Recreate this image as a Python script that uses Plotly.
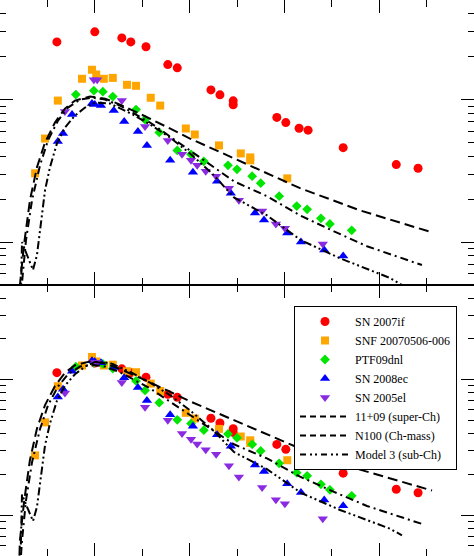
import plotly.graph_objects as go

# ---------------- data (top panel values) ----------------
sn07if_day = [-4.0, 0.0, 2.85, 3.8, 5.4, 7.7, 8.7, 12.25, 13.2, 14.6, 14.6, 19.2, 20.15, 21.55, 22.5, 26.2, 31.8, 34.1]
sn07if_flux = [2.54, 2.99, 2.71, 2.54, 2.35, 1.76, 1.67, 1.17, 1.08, 0.98, 0.92, 0.75, 0.69, 0.63, 0.61, 0.46, 0.35, 0.33]

snf_day = [-6.3, -5.25, -3.9, -1.35, -0.3, 0.15, 0.95, 1.9, 3.4, 4.35, 5.9, 6.9, 9.6, 10.55, 13.1, 15.4, 16.4, 16.4, 20.3]
snf_flux = [0.304, 0.533, 0.984, 1.40, 1.62, 1.50, 1.40, 1.42, 1.27, 1.25, 1.03, 0.908, 0.627, 0.569, 0.477, 0.419, 0.393, 0.375, 0.280]

ptf_day = [-2.0, -0.1, 0.85, 1.9, 4.35, 5.3, 6.8, 8.7, 10.15, 11.5, 14.05, 15.0, 16.6, 17.5, 19.45, 21.3, 22.4, 23.85, 24.8, 27.1]
ptf_flux = [1.084, 1.156, 1.137, 1.05, 0.851, 0.725, 0.588, 0.440, 0.413, 0.369, 0.346, 0.324, 0.290, 0.259, 0.210, 0.179, 0.170, 0.147, 0.134, 0.121]

sn08ec_day = [-3.9, -3.35, -2.4, -0.3, 0.0, 0.65, 2.0, 3.1, 4.55, 5.5, 7.95, 10.35, 12.9, 14.35, 16.9, 17.85, 20.3, 21.75, 24.2, 26.2]
sn08ec_flux = [0.508, 0.578, 0.785, 0.938, 0.923, 0.908, 0.838, 0.702, 0.597, 0.477, 0.375, 0.309, 0.267, 0.220, 0.160, 0.143, 0.116, 0.100, 0.088, 0.080]

sn05el_day = [-3.15, -0.1, 0.25, 2.85, 5.3, 7.7, 9.2, 10.15, 10.8, 11.7, 12.8, 14.15, 15.2, 17.65, 19.1, 20.05, 24.05]
sn05el_flux = [0.824, 1.38, 1.38, 0.984, 0.647, 0.517, 0.413, 0.375, 0.346, 0.314, 0.290, 0.239, 0.197, 0.165, 0.134, 0.125, 0.097]

m1109_day = [-8.0, -7.9, -7.45, -6.84, -6.1, -5.25, -4.2, -3.15, -2.1, -0.5, 1.08, 2.66, 5.82, 10.04, 14.68, 21.65, 27.97, 35.57]
m1109_flux = [0.03, 0.050, 0.098, 0.197, 0.335, 0.500, 0.691, 0.865, 0.984, 1.05, 1.016, 0.923, 0.736, 0.533, 0.387, 0.239, 0.167, 0.117]

n100_day = [-7.9, -7.7, -7.26, -6.62, -5.78, -4.94, -3.88, -2.83, -1.56, -0.3, 1.08, 2.66, 5.82, 10.04, 12.36, 14.68, 18.16, 21.65, 25.23, 28.71, 34.51]
n100_flux = [0.03, 0.050, 0.103, 0.197, 0.346, 0.517, 0.713, 0.879, 1.0, 1.033, 1.0, 0.908, 0.691, 0.440, 0.346, 0.267, 0.210, 0.154, 0.119, 0.0936, 0.069]

m3_day = [-7.85, -7.68, -7.15, -6.52, -6.1, -5.67, -5.25, -4.73, -3.99, -3.14, -2.09, -1.03, 0.02, 1.6, 4.03, 5.82, 7.93, 10.04, 12.36, 14.68, 18.16, 21.75, 25.87, 31.14, 32.4]
m3_flux = [0.03, 0.100, 0.0812, 0.0637, 0.0812, 0.143, 0.231, 0.335, 0.493, 0.637, 0.773, 0.879, 0.953, 0.938, 0.785, 0.669, 0.542, 0.419, 0.304, 0.206, 0.154, 0.103, 0.077, 0.056, 0.050]

# normalisation factors used for the lower (peak-matched) panel
norm_07if = 0.444
norm_snf = 0.909
norm_ptf = 1.15
norm_08ec = 1.47
norm_05el = 0.97
norm_1109 = 1.30
norm_n100 = 1.25
norm_m3 = 1.42

names = ["SN 2007if", "SNF 20070506-006", "PTF09dnl", "SN 2008ec", "SN 2005el"]
model_names = ["11+09 (super-Ch)", "N100 (Ch-mass)", "Model 3 (sub-Ch)"]

sne = [
    (sn07if_day, sn07if_flux, norm_07if, "#ff0000", "circle", 9),
    (snf_day, snf_flux, norm_snf, "#ffa500", "square", 8),
    (ptf_day, ptf_flux, norm_ptf, "#00e600", "diamond", 7.5),
    (sn08ec_day, sn08ec_flux, norm_08ec, "#0000ff", "triangle-up", 9),
    (sn05el_day, sn05el_flux, norm_05el, "#8a2be2", "triangle-down", 9),
]
models = [
    (m1109_day, m1109_flux, norm_1109, "10px,5px"),
    (n100_day, n100_flux, norm_n100, "8px,4px,2px,4px"),
    (m3_day, m3_flux, norm_m3, "8px,3px,2px,3px,2px,3px"),
]
legend_dash = ["6px,4px", "6px,4px", "6px,4px,2px,3px,2px,4px"]

fig = go.Figure()

for (d, f, k, col, sym, sz), nm in zip(sne, names):
    fig.add_trace(go.Scatter(x=d, y=f, mode="markers", name=nm, showlegend=True,
                             marker=dict(color=col, symbol=sym, size=sz, line=dict(width=0)),
                             xaxis="x", yaxis="y"))
    fig.add_trace(go.Scatter(x=d, y=[v * k for v in f], mode="markers", name=nm, showlegend=False,
                             marker=dict(color=col, symbol=sym, size=sz, line=dict(width=0)),
                             xaxis="x2", yaxis="y2"))

for (d, f, k, dash), nm in zip(models, model_names):
    fig.add_trace(go.Scatter(x=d, y=f, mode="lines", name=nm, showlegend=False,
                             line=dict(color="black", width=2, dash=dash), xaxis="x", yaxis="y"))
    fig.add_trace(go.Scatter(x=d, y=[v * k for v in f], mode="lines", name=nm, showlegend=False,
                             line=dict(color="black", width=2, dash=dash), xaxis="x2", yaxis="y2"))

for nm, dash in zip(model_names, legend_dash):
    fig.add_trace(go.Scatter(x=[None], y=[None], mode="lines", name=nm, showlegend=True,
                             line=dict(color="black", width=2, dash=dash), xaxis="x", yaxis="y"))

split = 1 - 285 / 556

xmaj = [-10, 0, 10, 20, 30, 40]
xmin = [-5, 5, 15, 25, 35]
ymaj = [0.1, 1]
ymin = [0.05, 0.06, 0.07, 0.08, 0.09, 0.2, 0.3, 0.4, 0.5, 0.6, 0.7, 0.8, 0.9, 2, 3, 4, 5]

xcommon = dict(range=[-10, 40], showline=True, linecolor="black", linewidth=1, mirror="ticks",
               ticks="inside", tickmode="array", tickvals=xmaj, ticklen=13, tickwidth=1.3,
               tickcolor="black", showticklabels=False, showgrid=False, zeroline=False,
               minor=dict(tickmode="array", tickvals=xmin, ticks="inside", ticklen=7,
                          tickwidth=1.3, tickcolor="black", showgrid=False))
ycommon = dict(type="log", range=[-1.30103, 0.69897], showline=True, linecolor="black", linewidth=1,
               mirror="ticks", ticks="inside", tickmode="array", tickvals=ymaj, ticklen=13,
               tickwidth=1.3, tickcolor="black", showticklabels=False, showgrid=False, zeroline=False,
               minor=dict(tickmode="array", tickvals=ymin, ticks="inside", ticklen=6,
                          tickwidth=1.3, tickcolor="black", showgrid=False))

fig.update_layout(
    width=474, height=556, autosize=False,
    margin=dict(l=0, r=0, t=0, b=0, pad=0),
    paper_bgcolor="white", plot_bgcolor="white",
    xaxis=dict(domain=[0, 1], anchor="y", **xcommon),
    yaxis=dict(domain=[split, 1], anchor="x", **ycommon),
    xaxis2=dict(domain=[0, 1], anchor="y2", **xcommon),
    yaxis2=dict(domain=[0, split], anchor="x2", **ycommon),
    legend=dict(x=294 / 474, y=1 - 306 / 556, xanchor="left", yanchor="top",
                bgcolor="white", bordercolor="black", borderwidth=1,
                font=dict(family="Liberation Serif", size=12, color="black"),
                itemwidth=50, tracegroupgap=0),
    showlegend=True,
)

fig.write_html("out.html", config={"displayModeBar": False},
               post_script="document.body.style.margin='0px';document.body.style.overflow='hidden';")
